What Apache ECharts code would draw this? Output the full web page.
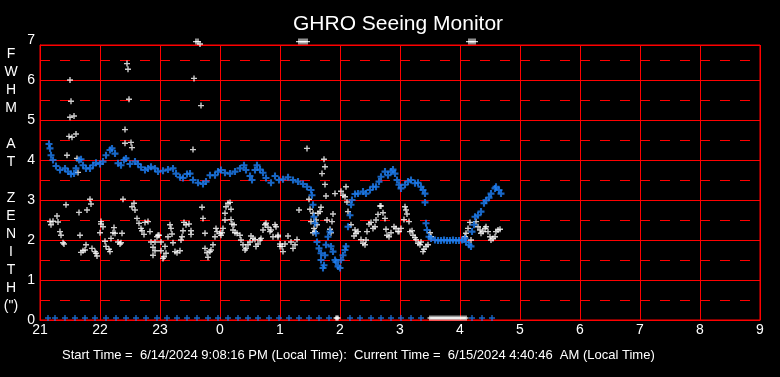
<!DOCTYPE html>
<html>
<head>
<meta charset="utf-8">
<script src="https://cdn.jsdelivr.net/npm/echarts@6/dist/echarts.min.js"></script>
<style>
  html, body { margin: 0; padding: 0; background: #000; }
  #chart-ctn { width: 780px; height: 377px; }
</style>
</head>
<body>
<div id="chart-ctn"></div>
<script>
// x = minutes after 21:00, y = FWHM (arcsec)
var hourLabels = ['21', '22', '23', '0', '1', '2', '3', '4', '5', '6', '7', '8', '9'];
var yLabels = ['0', '1', '2', '3', '4', '5', '6', '7'];

// raw seeing samples (white)
var rawPts = [
  [87,6.41],[88,6.27],[30,6.00],[89,5.52],[31,5.47],[30,5.07],[34,5.10],[85,4.76],[29,4.59],[32,4.57],
  [36,4.65],[85,4.42],[91,4.44],[92,4.31],[27,4.12],[37,4.04],[38,3.69],[50,3.02],[51,2.90],[26,2.88],
  [39,2.69],[47,2.75],[83,3.02],[94,2.92],[92,2.83],[95,2.75],[17,2.60],[10,2.46],[13,2.47],[11,2.38],
  [18,2.45],[20,2.21],[21,2.12],[23,1.93],[24,1.90],[40,2.12],[46,1.88],[43,1.73],[41,1.69],[45,1.75],
  [52,1.79],[55,1.71],[57,1.60],[56,1.67],[61,2.46],[61,2.40],[63,2.33],[60,2.18],[74,2.31],[73,2.18],
  [75,2.17],[82,2.17],[71,2.04],[65,1.97],[66,1.84],[69,1.77],[70,1.71],[78,1.95],[80,1.90],[81,1.93],
  [97,2.54],[99,2.42],[101,2.29],[102,2.23],[104,2.14],[105,2.44],[108,2.46],[110,2.21],[111,1.95],[113,1.82],
  [113,1.62],[115,1.73],[115,1.95],[117,2.08],[119,2.12],
  [154,6.04],[161,5.36],[153,4.26],[162,2.82],[163,2.54],[188,2.92],[190,2.94],[186,2.83],[191,2.77],[185,2.67],
  [185,2.50],[191,2.51],[192,2.40],[194,2.38],[130,2.38],[131,2.29],[132,2.15],[128,2.08],[144,2.44],[146,2.38],
  [149,2.40],[143,2.23],[151,2.23],[151,2.14],[118,2.12],[121,1.95],[125,1.84],[133,1.93],[141,2.00],[142,2.08],
  [121,1.73],[123,1.54],[124,1.58],[126,1.67],[135,1.71],[137,1.68],[140,1.73],[165,2.17],[165,1.79],[167,1.68],
  [168,1.57],[170,1.71],[171,1.75],[173,1.88],[175,2.08],[176,2.29],[177,2.21],[180,2.17],[181,2.12],[182,2.18],
  [183,2.29],[193,2.25],[195,2.18],[197,2.17],[200,2.12],[201,2.00],[203,1.88],[205,1.75],[206,1.79],[208,1.88],
  [210,1.95],[211,2.10],[213,2.04],[215,2.01],[216,1.84],[218,1.90],[220,2.00],[221,2.04],[223,2.25],[225,2.38],
  [226,2.42],[228,2.32],[230,2.21],[231,2.25],[233,2.08],[235,2.38],[236,2.33],[238,2.08],[240,1.84],
  [267,4.29],[284,4.02],[285,3.83],[282,3.66],[285,3.39],[286,3.10],[295,3.16],[301,3.22],[303,3.12],[306,3.33],
  [305,3.08],[307,2.95],[308,2.71],[269,3.02],[270,2.77],[259,2.75],[273,2.67],[278,2.67],[281,2.82],[280,2.71],
  [271,2.46],[276,2.50],[277,2.38],[274,2.29],[273,2.18],[275,2.21],[287,2.50],[292,2.46],[293,2.65],[290,2.27],
  [291,2.18],[238,2.12],[245,1.90],[242,1.84],[240,1.90],[251,1.95],[257,2.01],[253,1.79],[255,1.88],[248,2.10],
  [243,1.71],[311,2.38],[314,2.10],[316,2.17],[318,2.21],[315,2.25],[327,2.21],[329,2.40],[331,2.44],[333,2.29],
  [335,2.33],[336,2.50],[338,2.64],[340,2.85],[341,2.85],[343,2.68],[345,2.54],[346,2.27],[321,2.01],[323,1.92],
  [325,1.88],[326,2.00],[347,2.12],[349,2.08],[351,2.18],[354,2.33],[356,2.29],[359,2.21],
  [365,2.83],[366,2.75],[367,2.65],[364,2.51],[369,2.46],[358,2.21],[361,2.29],[370,2.21],[372,2.23],[373,2.12],
  [375,2.06],[376,2.01],[378,1.92],[380,1.88],[381,1.95],[383,1.71],[384,1.77],[386,1.84],[388,1.88],[390,2.18],
  [391,2.08],[425,2.08],[426,2.17],[428,2.29],[430,2.44],[431,2.00],[436,2.46],[438,2.33],[440,2.25],[441,2.17],
  [443,2.21],[445,2.29],[446,2.33],[448,2.21],[450,2.08],[451,2.00],[453,2.04],[455,2.08],[456,2.21],[458,2.25],
  [460,2.27]
];
// raw samples at the top of the scale
var rawHigh = [[156,6.96],[158,6.96],[160,6.90],[259,6.96],[261,6.96],[263,6.96],[265,6.96],[267,6.96],
  [429,6.96],[431,6.96],[433,6.96],[435,6.96]];
// raw samples with no reading
var rawZero = [[296,0.05],[297,0.05],[298,0.05],
  [390,0.05],[392,0.05],[394,0.05],[396,0.05],[398,0.05],[400,0.05],[402,0.05],[404,0.05],[406,0.05],[408,0.05],
  [410,0.05],[412,0.05],[414,0.05],[416,0.05],[418,0.05],[420,0.05],[422,0.05],[424,0.05],[426,0.05]];

// averaged seeing (blue)
var avgPts = [
  [9,4.40],[10,4.29],[11,4.12],[13,4.00],[16,3.85],[20,3.75],[25,3.79],[28,3.71],[31,3.65],[34,3.66],
  [36,3.79],[39,4.00],[41,4.02],[43,3.87],[46,3.79],[50,3.79],[53,3.87],[56,3.93],[60,3.90],[63,3.96],
  [66,4.12],[70,4.25],[72,4.29],[75,4.16],[78,3.92],[81,3.87],[84,4.00],[86,4.04],[90,3.90],[95,3.96],
  [98,3.90],[101,3.82],[105,3.75],[108,3.79],[111,3.83],[115,3.79],[118,3.71],[123,3.73],[128,3.76],[133,3.79],
  [136,3.66],[140,3.57],[143,3.55],[147,3.65],[150,3.66],[153,3.50],[158,3.43],[163,3.40],[166,3.46],[170,3.62],
  [175,3.62],[178,3.71],[181,3.75],[185,3.68],[190,3.66],[195,3.71],[200,3.79],[204,3.87],[206,3.75],[210,3.60],
  [212,3.50],[215,3.75],[217,3.87],[220,3.76],[223,3.68],[226,3.55],[231,3.43],[235,3.60],[239,3.50],[243,3.52],
  [248,3.57],[253,3.50],[258,3.46],[263,3.40],[267,3.33],[271,3.25],[272,3.12],[273,2.88],[274,2.58],[275,2.42],
  [276,2.17],[277,1.95],[279,1.79],[281,1.67],[281,1.50],[283,1.30],[284,1.37],[285,1.62],[286,1.88],[288,2.08],
  [290,2.21],[291,1.84],[293,1.71],[295,1.50],[296,1.45],[298,1.34],[300,1.30],[301,1.50],[303,1.62],[305,1.75],
  [306,1.84],[308,2.33],[310,2.62],[311,2.88],[312,3.00],[315,3.15],[318,3.16],[323,3.21],[326,3.16],[330,3.25],
  [333,3.33],[336,3.33],[339,3.46],[341,3.58],[345,3.71],[348,3.62],[351,3.71],[353,3.76],[355,3.66],[357,3.50],
  [359,3.38],[361,3.29],[365,3.38],[368,3.46],[371,3.50],[375,3.42],[378,3.43],[381,3.33],[383,3.25],[385,3.16],
  [385,2.94],[386,2.42],[387,2.25],[389,2.08],[391,2.04],[395,2.00],[398,1.99],[401,1.99],[404,2.00],[407,1.99],
  [410,1.99],[413,2.00],[416,1.99],[419,1.99],[422,2.00],[425,2.04],[426,1.95],[429,1.88],[431,1.84],[432,2.21],
  [434,2.38],[435,2.58],[438,2.62],[441,2.71],[444,2.92],[446,2.99],[449,3.06],[451,3.16],[455,3.29],[456,3.33],
  [459,3.25],[461,3.16]
];
var avgZero = [[8,0.05],[15,0.05],[25,0.05],[35,0.05],[45,0.05],[55,0.05],[66,0.05],[76,0.05],[86,0.05],[96,0.05],
  [106,0.05],[117,0.05],[127,0.05],[137,0.05],[147,0.05],[157,0.05],[168,0.05],[178,0.05],[188,0.05],[198,0.05],
  [208,0.05],[218,0.05],[229,0.05],[239,0.05],[249,0.05],[259,0.05],[269,0.05],[279,0.05],[289,0.05],[310,0.05],
  [320,0.05],[331,0.05],[341,0.05],[351,0.05],[361,0.05],[371,0.05],[381,0.05],[432,0.05],[442,0.05],[452,0.05]];

var titleText = 'GHRO Seeing Monitor';
var yName = ['F', 'W', 'H', 'M', '', 'A', 'T', '', 'Z', 'E', 'N', 'I', 'T', 'H', '(")'];
var footText = 'Start Time =  6/14/2024 9:08:16 PM (Local Time):  Current Time =  6/15/2024 4:40:46  AM (Local Time)';

var FONT = '"Liberation Sans", Arial, sans-serif';
var PLUS_THIN = 'path://M2.3,0H3.7V2.3H6V3.7H3.7V6H2.3V3.7H0V2.3H2.3Z';
var PLUS_BOLD = 'path://M2.1,0H3.9V2.1H6V3.9H3.9V6H2.1V3.9H0V2.1H2.1Z';

function plusSeries(data, color, sym, size) {
  return {
    type: 'scatter',
    xAxisIndex: 0,
    yAxisIndex: 0,
    symbol: sym,
    symbolSize: size,
    clip: false,
    itemStyle: { color: color },
    data: data,
    silent: true
  };
}

var chart = echarts.init(document.getElementById('chart-ctn'));

// plot area is clipped just under 7 (top border at 6.875), labels run 0..7
var option = {
  backgroundColor: '#000',
  animation: false,
  title: {
    text: titleText,
    left: 288,
    top: 9,
    textStyle: { color: '#fff', fontSize: 21, fontWeight: 'normal', fontFamily: FONT }
  },
  grid: [
    { left: 40, right: 20, top: 45, bottom: 57, show: true, borderColor: '#f00', borderWidth: 1, backgroundColor: 'transparent' },
    { left: 40, right: 20, top: 40, bottom: 57, show: false }
  ],
  xAxis: [{
    type: 'value',
    min: 0,
    max: 720,
    interval: 60,
    axisLine: { show: true, lineStyle: { color: '#f00', width: 1 } },
    axisTick: { show: false },
    axisLabel: {
      color: '#fff', fontSize: 14, fontFamily: FONT, margin: 3,
      formatter: function (v) { return hourLabels[Math.round(v / 60)]; }
    },
    splitLine: { show: true, lineStyle: { color: '#f00', width: 1 } }
  }, {
    gridIndex: 1, type: 'value', min: 0, max: 1, show: false
  }],
  yAxis: [{
    type: 'value',
    min: 0,
    max: 6.875,
    interval: 1,
    axisLine: { show: true, lineStyle: { color: '#f00', width: 1 } },
    axisTick: { show: false },
    axisLabel: { show: false },
    splitLine: { show: true, lineStyle: { color: '#f00', width: 1 } }
  }, {
    // dashed half-unit lines
    gridIndex: 0,
    type: 'value',
    min: 0,
    max: 6.875,
    interval: 0.5,
    axisLine: { show: false },
    axisTick: { show: false },
    axisLabel: { show: false },
    splitLine: { show: true, lineStyle: { color: '#f00', width: 1, type: [10, 10] } }
  }, {
    gridIndex: 1,
    type: 'value',
    min: 0,
    max: 7,
    interval: 1,
    axisLine: { show: false },
    axisTick: { show: false },
    splitLine: { show: false },
    axisLabel: {
      color: '#fff', fontSize: 14, fontFamily: FONT, margin: 5,
      formatter: function (v) { return yLabels[Math.round(v)]; }
    }
  }],
  graphic: [{
    type: 'text',
    x: 11,
    y: 45,
    style: {
      text: yName.join('\n'),
      fill: '#fff',
      font: '14px ' + FONT,
      textAlign: 'center',
      textVerticalAlign: 'top',
      lineHeight: 18
    }
  }, {
    type: 'text',
    x: 62,
    y: 355,
    style: {
      text: footText,
      fill: '#fff',
      font: '13px ' + FONT,
      textAlign: 'left',
      textVerticalAlign: 'middle'
    }
  }],
  series: [
    plusSeries(rawPts, '#fff', PLUS_THIN, 6),
    plusSeries(rawHigh, '#fff', PLUS_THIN, 6),
    plusSeries(rawZero, '#fff', PLUS_BOLD, 5),
    plusSeries(avgZero, '#1e80f5', PLUS_THIN, 6),
    plusSeries(avgPts, '#1e80f5', PLUS_BOLD, 7)
  ]
};

chart.setOption(option);
</script>
</body>
</html>
